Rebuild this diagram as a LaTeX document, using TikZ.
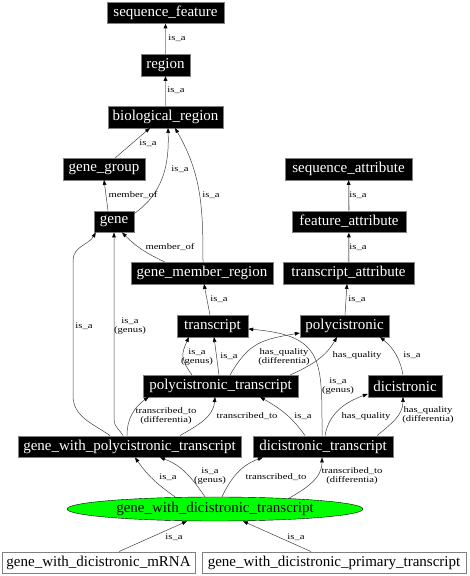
\documentclass[tikz,border=0pt]{standalone}
\usepackage{fontspec}
\setmainfont{Liberation Serif}
\newfontfamily\lblfont[FakeStretch=1.25]{Liberation Serif}
\usetikzlibrary{arrows.meta,shapes.geometric}
\definecolor{BorderClr}{gray}{0.5}
\definecolor{EdgeClr}{gray}{0.25}
\definecolor{IsaClr}{gray}{0.62}
\definecolor{FocusClr}{rgb}{0,1,0}

\begin{document}
\begin{tikzpicture}[x=1pt,y=1pt,
  term/.style={draw=BorderClr,fill=black,text=white,font=\fontsize{15}{17}\selectfont,
    inner xsep=4pt,inner ysep=0pt,minimum height=21.5pt,minimum width=#1},
  term/.default=40pt,
  leaf/.style={term=#1,fill=white,text=black},
  focus/.style={ellipse,draw=black,fill=FocusClr,font=\fontsize{15}{17}\selectfont,
    minimum width=296pt,minimum height=24pt,inner sep=0pt},
  rel/.style={draw=EdgeClr,line width=0.5pt,-{Triangle[length=5pt,width=3.6pt,color=black]}},
  isa/.style={rel,draw=IsaClr,line width=1.3pt},
  lbl/.style={font=\lblfont\fontsize{8.5}{9.5}\selectfont,inner sep=0pt,align=center}]
\useasboundingbox (0,0) rectangle (469,576);

\node[term=117pt] (sf)   at (165.5,563.5) {sequence\_feature};
\node[term=49pt]  (reg)  at (165.5,511)   {region};
\node[term=115pt] (bio)  at (165.5,459)   {biological\_region};
\node[term=82pt]  (gg)   at (104,407)     {gene\_group};
\node[term=127pt] (sa)   at (348.5,407)   {sequence\_attribute};
\node[term=40pt]  (gene) at (114,354.5)   {gene};
\node[term=114pt] (fa)   at (349,354.5)   {feature\_attribute};
\node[term=142pt] (gmr)  at (202,303)     {gene\_member\_region};
\node[term=131pt] (ta)   at (348.5,303)   {transcript\_attribute};
\node[term=71pt]  (tr)   at (212.5,250)   {transcript};
\node[term=89pt]  (poly) at (344.5,250)   {polycistronic};
\node[term=155pt] (pt)   at (220.5,190)   {polycistronic\_transcript};
\node[term=74pt]  (dic)  at (405,190)     {dicistronic};
\node[term=223pt] (gwpt) at (129.5,129.5) {gene\_with\_polycistronic\_transcript};
\node[term=140pt] (dt)   at (323,129.5)   {dicistronic\_transcript};
\node[focus]      (gwdt) at (215,67)      {gene\_with\_dicistronic\_transcript};
\node[leaf=193pt] (mrna) at (98.5,13.5)   {gene\_with\_dicistronic\_mRNA};
\node[leaf=264pt] (prim) at (334,13.5)    {gene\_with\_dicistronic\_primary\_transcript};

\draw[isa] (reg) -- (sf) node[lbl] at (177,538) {is\_a};
\draw[isa] (bio) -- (reg) node[lbl] at (176,486) {is\_a};
\draw[rel] ([xshift=11pt]gg.north) -- ([xshift=-15.5pt]bio.south) node[lbl] at (148,433) {is\_a};
\draw[rel] ([yshift=-3pt]gene.north east) to[out=35,in=-88] ([xshift=2.5pt]bio.south) node[lbl] at (180,407) {is\_a};
\draw[rel] ([xshift=1pt]gmr.north) to[out=90,in=-60] ([xshift=9.5pt]bio.south) node[lbl] at (211,381) {is\_a};
\draw[rel] ([xshift=-6pt]gene.north) -- (gg.south) node[lbl] at (133,381) {member\_of};
\draw[rel] ([xshift=-37pt]gmr.north) to[out=155,in=-45] ([xshift=8pt]gene.south) node[lbl] at (170,329) {member\_of};
\draw[isa] (fa) -- (sa) node[lbl] at (358,381) {is\_a};
\draw[isa] (ta) -- (fa) node[lbl] at (358,329) {is\_a};
\draw[rel] ([xshift=-2.5pt]tr.north) -- ([xshift=2pt]gmr.south) node[lbl] at (219,277) {is\_a};
\draw[rel] ([xshift=0.5pt]poly.north) -- ([xshift=-1.5pt]ta.south) node[lbl] at (357,277) {is\_a};

\draw[rel] ([xshift=-28.5pt]pt.north) to[out=125,in=-115,looseness=1.3] ([xshift=-23.5pt]tr.south) node[lbl] at (197,219) {is\_a\\(genus)};
\draw[rel] ([xshift=-1.5pt]pt.north) -- ([xshift=1.5pt]tr.south) node[lbl] at (229,220) {is\_a};
\draw[rel] ([xshift=9.5pt]pt.north) to[out=60,in=190,looseness=1.2] ([yshift=4pt]poly.south west) node[lbl] at (284,219) {has\_quality\\(differentia)};
\draw[rel] ([xshift=-8pt]pt.north east) to[out=25,in=-120] ([xshift=-7.5pt]poly.south) node[lbl] at (357,221) {has\_quality};
\draw[rel] ([xshift=-2pt]dic.north) to[out=100,in=-40] ([xshift=35.5pt]poly.south) node[lbl] at (412,221) {is\_a};
\draw[rel] ([xshift=-1pt]dt.north) to[out=90,in=-5,looseness=1.5] ([yshift=-3pt]tr.east) node[lbl] at (338,190) {is\_a\\(genus)};
\draw[rel] ([xshift=-18pt]dt.north) to[out=125,in=-30] ([xshift=39.5pt]pt.south) node[lbl] at (303,160) {is\_a};
\draw[rel] ([xshift=2pt]dt.north) to[out=80,in=200] ([yshift=3pt]dic.south west) node[lbl] at (366,160) {has\_quality};
\draw[rel] ([xshift=-16pt]dt.north east) to[out=40,in=-90] ([xshift=-2pt]dic.south) node[lbl] at (428,161) {has\_quality\\(differentia)};

\draw[rel] ([xshift=-19.5pt]gwpt.north) to[out=145,in=-90] ++(-37,40) -- ++(0,135)
  to[out=90,in=-120] ([xshift=2pt]gene.south west) node[lbl] at (84,250) {is\_a};
\draw[rel] ([xshift=-6.5pt]gwpt.north) to[out=120,in=-90] ++(-9,16) -- (gene.south) node[lbl] at (130,250) {is\_a\\(genus)};
\draw[rel] ([xshift=-2.5pt]gwpt.north) to[out=90,in=-145] ([xshift=6pt]pt.south west) node[lbl] at (166,160) {transcribed\_to\\(differentia)};
\draw[rel] ([xshift=50.5pt]gwpt.north) to[out=30,in=-95] ([xshift=-5.5pt]pt.south) node[lbl] at (247,160) {transcribed\_to};

\draw[rel] ([xshift=-40pt]gwdt.north) to[out=145,in=-55] ([xshift=5.5pt]gwpt.south) node[lbl] at (168,99) {is\_a};
\draw[rel] ([xshift=-10pt]gwdt.north) to[out=125,in=-20] ([xshift=30.5pt]gwpt.south) node[lbl] at (210,100) {is\_a\\(genus)};
\draw[rel] ([xshift=7pt]gwdt.north) to[out=65,in=-160] ([xshift=10pt]dt.south west) node[lbl] at (276,99) {transcribed\_to};
\draw[rel] ([xshift=73pt,yshift=-2pt]gwdt.north) to[out=30,in=-90] ([xshift=-1pt]dt.south) node[lbl] at (352,100) {transcribed\_to\\(differentia)};
\draw[rel] ([xshift=20.5pt]mrna.north) -- ([xshift=-28pt]gwdt.south) node[lbl] at (174,39) {is\_a};
\draw[rel] ([xshift=-23pt]prim.north) -- ([xshift=28pt]gwdt.south) node[lbl] at (296,39) {is\_a};

\end{tikzpicture}
\end{document}
